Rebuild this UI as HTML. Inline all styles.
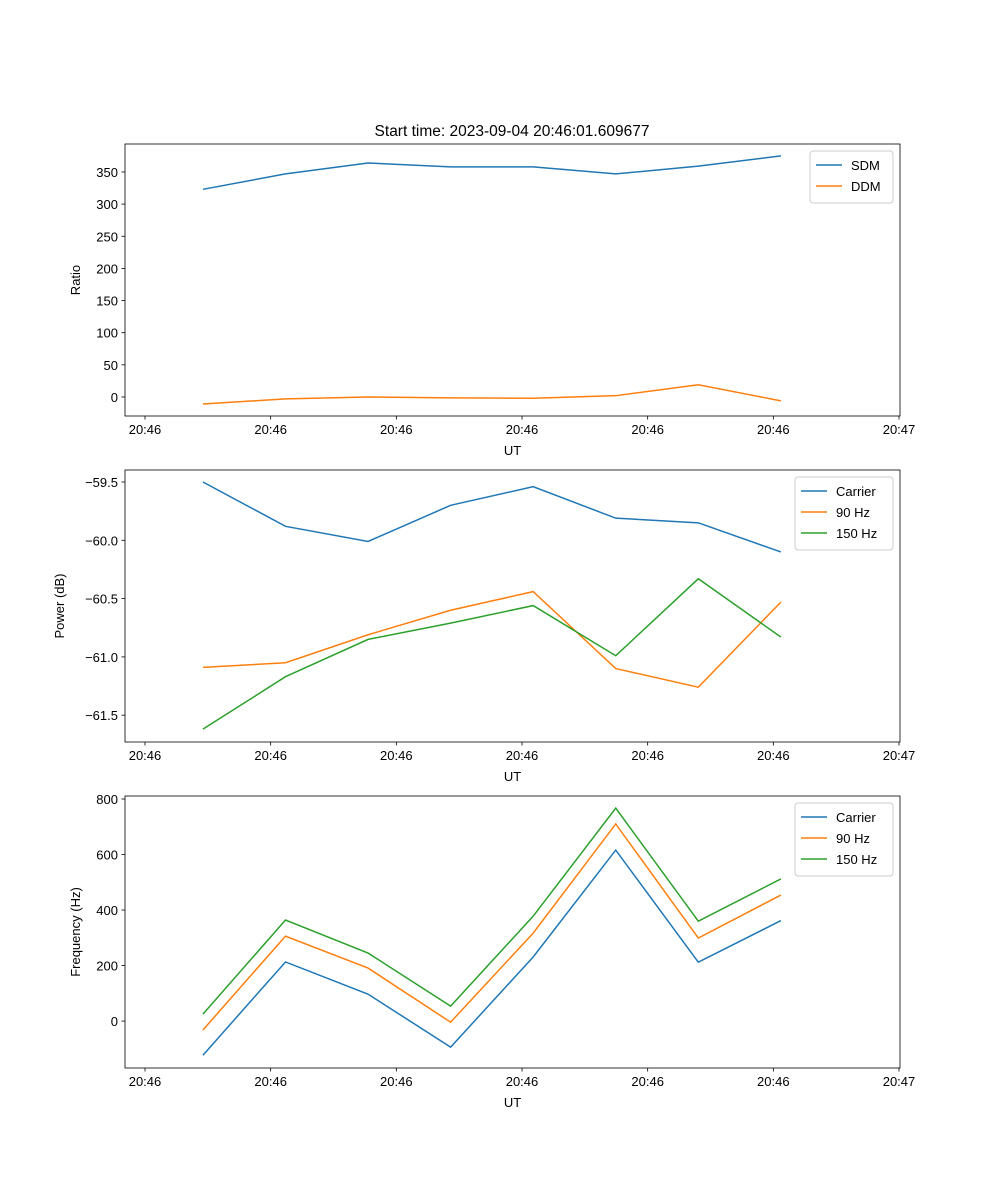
<!DOCTYPE html>
<html><head><meta charset="utf-8"><style>
body{margin:0;background:#fff}
svg{display:block;font-family:"Liberation Sans",sans-serif}
</style></head><body>
<svg id="fig" width="1000" height="1200" xmlns="http://www.w3.org/2000/svg">
<text x="512" y="136" font-size="15.5" text-anchor="middle">Start time: 2023-09-04 20:46:01.609677</text>
</svg>
<script>
const times = [4.61, 11.18, 17.75, 24.32, 30.89, 37.46, 44.03, 50.60];
const xTickVals = [0, 10, 20, 30, 40, 50, 60];
const xTickLabels = ["20:46","20:46","20:46","20:46","20:46","20:46","20:47"];
const sdm = [323, 347, 364, 358, 358, 347, 359, 375];
const ddm = [-11, -3, 0, -1.5, -2, 2, 19, -6];
const pwrCarrier = [-59.50, -59.88, -60.01, -59.70, -59.54, -59.81, -59.85, -60.10];
const pwr90 = [-61.09, -61.05, -60.81, -60.60, -60.44, -61.10, -61.26, -60.53];
const pwr150 = [-61.62, -61.17, -60.85, -60.71, -60.56, -60.99, -60.33, -60.83];
const freqCarrier = [-123, 213, 97, -94, 231, 616, 212, 362];
const freq90 = [-32, 306, 191, -4, 317, 710, 299, 454];
const freq150 = [25, 364, 245, 54, 378, 767, 360, 512];
const ratioTicks = [0, 50, 100, 150, 200, 250, 300, 350];
const pwrTicks = [-61.5, -61.0, -60.5, -60.0, -59.5];
const freqTicks = [0, 200, 400, 600, 800];

const NS = "http://www.w3.org/2000/svg";
const svg = document.getElementById("fig");
const C = ["#1f77b4", "#ff7f0e", "#2ca02c"];
function mk(tag, attrs, parent) {
  const e = document.createElementNS(NS, tag);
  for (const k in attrs) e.setAttribute(k, attrs[k]);
  (parent || svg).appendChild(e);
  return e;
}
const L = 125, R = 900;
function xs(t) { return 145 + (t - 0) * (899 - 145) / 60; }

function panel(name, top, bottom, yMin, yMax, yTicks, yFmt, yTitle, series, labels, legendW) {
  const g = mk("g", {});
  
  
  const ys = v => bottom - (v - yMin) / (yMax - yMin) * (bottom - top);
  series.forEach((s, k) => {
    const p = mk("polyline", { points: s.map((v, i) => xs(times[i]) + "," + ys(v)).join(" "), fill: "none", stroke: C[k], "stroke-width": 1.5 }, g);
    
    
  });
  mk("rect", { x: L, y: top, width: R - L, height: bottom - top, fill: "none", stroke: "#000", "stroke-width": 0.8 }, g);
  xTickVals.forEach((t, i) => {
    const x = xs(t);
    mk("line", { x1: x, x2: x, y1: bottom, y2: bottom + 3.5, stroke: "#000", "stroke-width": 0.8 }, g);
    const tx = mk("text", { x: x, y: bottom + 18, "font-size": 13, "text-anchor": "middle" }, g);
    tx.textContent = xTickLabels[i];
    
    
  });
  const xt = mk("text", { x: (L + R) / 2, y: bottom + 39, "font-size": 13, "text-anchor": "middle" }, g);
  xt.textContent = "UT";
  
  
  yTicks.forEach(v => {
    const y = ys(v);
    mk("line", { x1: L - 3.5, x2: L, y1: y, y2: y, stroke: "#000", "stroke-width": 0.8 }, g);
    const tx = mk("text", { x: L - 7, y: y + 5, "font-size": 13, "text-anchor": "end" }, g);
    tx.textContent = yFmt(v);
    
    
  });
  const maxLen = Math.max(...yTicks.map(v => yFmt(v).length));
  const yx = L - 21 - maxLen * 8;
  const yt = mk("text", { x: yx, y: (top + bottom) / 2, "font-size": 13, "text-anchor": "middle", transform: `rotate(-90 ${yx} ${(top + bottom) / 2})` }, g);
  yt.textContent = yTitle;
  
  
  const lx = R - 7 - legendW, ly = top + 7;
  const lg = mk("g", {}, g);
  
  
  mk("rect", { x: lx, y: ly, width: legendW, height: 10 + labels.length * 21, rx: 3, fill: "#fff", stroke: "#ccc", "stroke-width": 1 }, lg);
  labels.forEach((lab, k) => {
    const yy = ly + 14 + k * 21;
    mk("line", { x1: lx + 6, x2: lx + 32, y1: yy, y2: yy, stroke: C[k], "stroke-width": 1.5 }, lg);
    const t = mk("text", { x: lx + 41, y: yy + 5, "font-size": 13 }, lg);
    t.textContent = lab;
    
    
  });
}
panel("ratio", 144, 416, -29.6, 393.5, ratioTicks, v => v < 0 ? "\u2212" + (-v) : String(v), "Ratio", [sdm, ddm], ["SDM", "DDM"], 83);
panel("power", 470, 742, -61.73, -59.397, pwrTicks, v => "\u2212" + Math.abs(v).toFixed(1), "Power (dB)", [pwrCarrier, pwr90, pwr150], ["Carrier", "90 Hz", "150 Hz"], 98);
panel("frequency", 796, 1068, -169, 810.8, freqTicks, v => String(v), "Frequency (Hz)", [freqCarrier, freq90, freq150], ["Carrier", "90 Hz", "150 Hz"], 98);
</script>
</body></html>
